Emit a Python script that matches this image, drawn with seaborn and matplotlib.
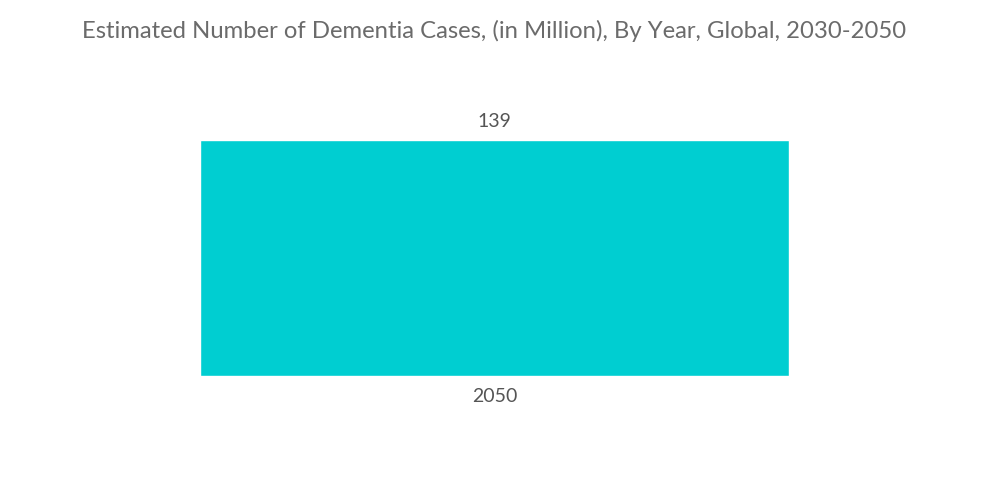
import matplotlib
matplotlib.use("Agg")
import matplotlib.pyplot as plt
import seaborn as sns
import pandas as pd

years = ["2050"]
cases = [139]

sns.set_theme(style="white")
plt.rcParams['font.family'] = ['Lato', 'DejaVu Sans']

df = pd.DataFrame({"year": years, "cases": cases})

fig = plt.figure(figsize=(10, 5.04), dpi=100)
ax = fig.add_axes([0.1265, 0.254, 0.736, 0.468])
sns.barplot(data=df, x="year", y="cases", color="#00CED1", saturation=1, width=0.8, ax=ax)
ax.set_ylim(0, max(cases))
ax.set_xlim(-0.5, len(years) - 0.5)

for p, v in zip(ax.patches, cases):
    ax.annotate(f"{v}", (p.get_x() + p.get_width() / 2, p.get_height()),
                xytext=(0, 7), textcoords="offset points", ha="center", va="bottom",
                fontsize=14, color="#555555")

ax.set_xlabel("")
ax.set_ylabel("")
ax.set_yticks([])
ax.tick_params(axis="x", length=0, pad=9, labelsize=14, labelcolor="#555555")
for s in ax.spines.values():
    s.set_visible(False)

fig.suptitle("Estimated Number of Dementia Cases, (in Million), By Year, Global, 2030-2050",
             x=0.494, y=0.96, fontsize=17.2, color="#6b6b6b", va="top")

fig.savefig("out.png", dpi=100)
